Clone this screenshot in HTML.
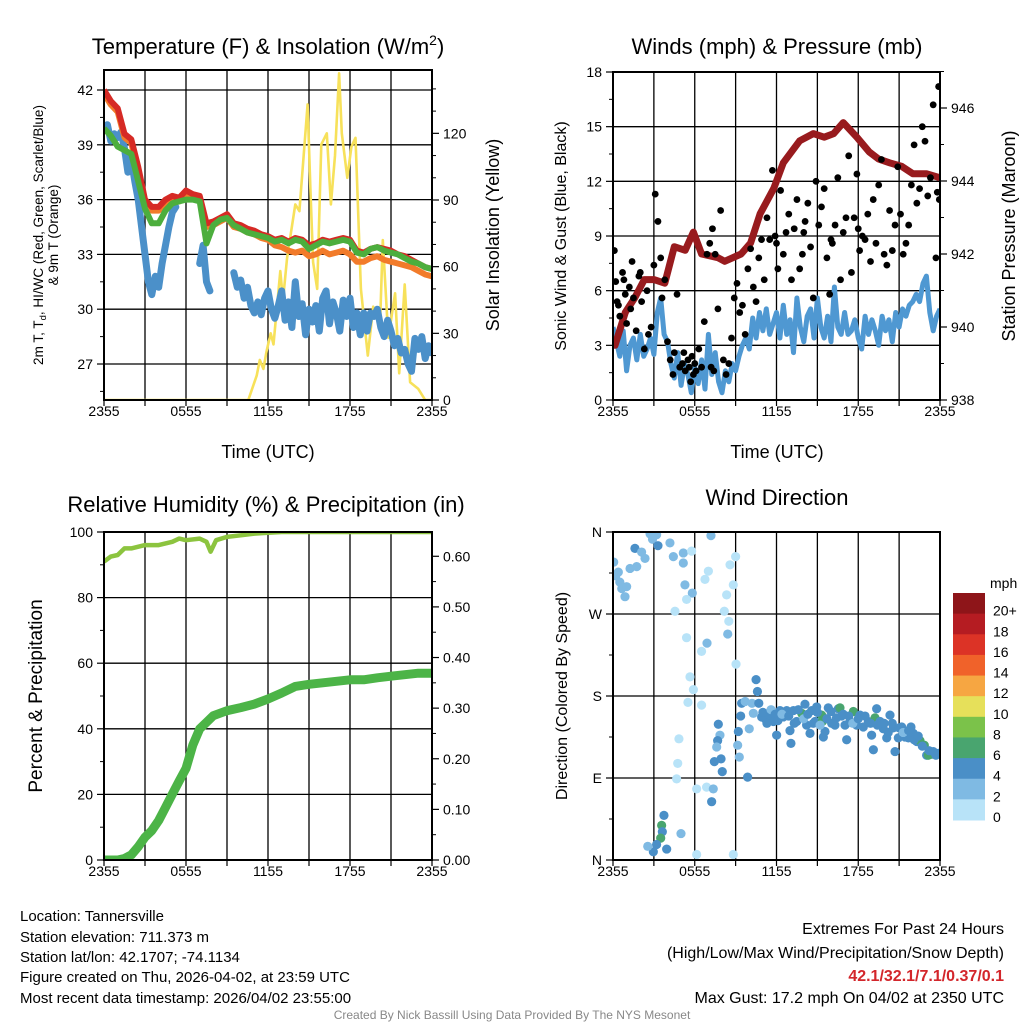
<!DOCTYPE html>
<html><head><meta charset="utf-8"><style>
html,body{margin:0;padding:0;background:#fff;width:1024px;height:1024px;overflow:hidden}
svg{display:block;font-family:"Liberation Sans",Arial,sans-serif}
</style></head><body>
<svg id="fig" width="1024" height="1024" viewBox="0 0 1024 1024">
<defs>
<clipPath id="c1"><rect x="104" y="70" width="328" height="330"/></clipPath>
<clipPath id="c2"><rect x="613" y="72" width="327" height="328"/></clipPath>
<clipPath id="c3"><rect x="104" y="532" width="328" height="328"/></clipPath>
<clipPath id="c4"><rect x="613" y="532" width="327" height="328"/></clipPath>
</defs>
<g id="layer"></g>
<text x="268" y="54" font-size="22" text-anchor="middle">Temperature (F) &amp; Insolation (W/m<tspan dy="-9" font-size="14">2</tspan><tspan dy="9">)</tspan></text>
<text x="777" y="54" font-size="22" text-anchor="middle">Winds (mph) &amp; Pressure (mb)</text>
<text x="266" y="512" font-size="22" text-anchor="middle">Relative Humidity (%) &amp; Precipitation (in)</text>
<text x="777" y="505" font-size="22" text-anchor="middle">Wind Direction</text>
<text x="268" y="458" font-size="18" text-anchor="middle">Time (UTC)</text>
<text x="777" y="458" font-size="18" text-anchor="middle">Time (UTC)</text>
<text transform="translate(43,235) rotate(-90)" font-size="13.5" text-anchor="middle">2m T, T<tspan dy="3" font-size="9.5">d</tspan><tspan dy="-3">, HI/WC (Red, Green, Scarlet/Blue)</tspan></text>
<text transform="translate(58,235) rotate(-90)" font-size="13.5" text-anchor="middle">&amp; 9m T (Orange)</text>
<text transform="translate(499,235) rotate(-90)" font-size="18" text-anchor="middle">Solar Insolation (Yellow)</text>
<text transform="translate(566,236) rotate(-90)" font-size="16" text-anchor="middle">Sonic Wind &amp; Gust (Blue, Black)</text>
<text transform="translate(1015,236) rotate(-90)" font-size="18" text-anchor="middle">Station Pressure (Maroon)</text>
<text transform="translate(42,696) rotate(-90)" font-size="19" text-anchor="middle">Percent &amp; Precipitation</text>
<text transform="translate(567,696) rotate(-90)" font-size="16" text-anchor="middle">Direction (Colored By Speed)</text>
<text x="990" y="588" font-size="14">mph</text>
<g font-size="15">
<text x="20" y="921">Location: Tannersville</text>
<text x="20" y="942">Station elevation: 711.373 m</text>
<text x="20" y="962">Station lat/lon: 42.1707; -74.1134</text>
<text x="20" y="982">Figure created on Thu, 2026-04-02, at 23:59 UTC</text>
<text x="20" y="1003">Most recent data timestamp: 2026/04/02 23:55:00</text>
</g>
<g font-size="16" text-anchor="end">
<text x="1004" y="934">Extremes For Past 24 Hours</text>
<text x="1004" y="958">(High/Low/Max Wind/Precipitation/Snow Depth)</text>
<text x="1004" y="981" fill="#d3262b" font-weight="bold">42.1/32.1/7.1/0.37/0.1</text>
<text x="1004" y="1003">Max Gust: 17.2 mph On 04/02 at 2350 UTC</text>
</g>
<text x="512" y="1019" font-size="12" fill="#888" text-anchor="middle">Created By Nick Bassill Using Data Provided By The NYS Mesonet</text>
</svg>
<script>
// ---------- data ----------
const xTickLabels = ["2355","0555","1155","1755","2355"];
const tempTimes = [0,0.5,1,1.5,2,2.5,3,3.5,4,4.5,5,5.5,6,6.5,7,7.5,8,8.5,9,9.5,10,10.5,11,11.5,12,12.5,13,13.5,14,14.5,15,15.5,16,16.5,17,17.5,18,18.5,19,19.5,20,20.5,21,21.5,22,22.5,23,23.5,24];
const tempRed = [42.0,41.4,41.0,39.6,39.3,37.8,36.0,35.6,35.6,36.0,36.2,36.1,36.5,36.3,36.2,34.7,34.8,35.0,35.2,34.7,34.6,34.4,34.3,34.1,34.0,33.8,33.9,33.7,33.9,33.8,33.5,33.6,33.8,33.7,33.8,33.9,33.8,33.2,33.1,33.3,33.4,33.3,33.2,33.0,32.9,32.7,32.5,32.3,32.2];
const tempOrange = [41.8,41.2,40.8,39.4,39.1,37.6,35.8,35.4,35.4,35.8,36.0,35.9,36.3,36.1,36.0,34.5,34.6,34.8,35.0,34.5,34.4,34.2,34.1,33.9,33.8,33.5,33.4,33.2,33.1,33.2,32.9,33.0,33.2,33.0,33.1,33.2,33.0,32.6,32.6,32.8,32.9,32.7,32.6,32.5,32.4,32.3,32.1,31.9,31.8];
const tempGreen = [39.9,39.5,38.9,38.7,38.5,37.0,35.5,34.7,34.7,35.4,35.8,35.9,36.0,36.0,35.9,33.6,34.6,34.9,35.0,34.6,34.4,34.2,34.1,34.0,33.9,33.7,33.8,33.6,33.8,33.7,33.3,33.5,33.7,33.6,33.7,33.8,33.7,33.1,33.0,33.3,33.4,33.2,33.1,33.0,32.8,32.6,32.5,32.3,32.2];
const dewTimes = [0,0.25,0.5,0.75,1,1.25,1.5,1.75,2,2.25,2.5,2.75,3,3.25,3.5,3.75,4,4.25,4.5,4.75,5,5.25,5.5,5.75,6,6.25,6.5,6.75,7,7.25,7.5,7.75,8,8.25,8.5,8.75,9,9.25,9.5,9.75,10,10.25,10.5,10.75,11,11.25,11.5,11.75,12,12.25,12.5,12.75,13,13.25,13.5,13.75,14,14.25,14.5,14.75,15,15.25,15.5,15.75,16,16.25,16.5,16.75,17,17.25,17.5,17.75,18,18.25,18.5,18.75,19,19.25,19.5,19.75,20,20.25,20.5,20.75,21,21.25,21.5,21.75,22,22.25,22.5,22.75,23,23.25,23.5,23.75,24];
const dewBlue = [39.8,40.1,39.2,39.6,39.4,39.7,38.8,37.5,38.2,37.0,36.0,34.5,33.0,31.5,30.8,31.8,31.2,32.5,33.5,34.5,35.3,35.6,null,null,null,null,null,null,32.5,33.5,31.5,31.0,null,35.3,null,null,null,null,32.0,31.2,31.6,30.6,31.2,30.2,29.8,30.4,29.7,30.6,31.0,30.0,29.5,30.2,31.0,29.4,30.4,29.0,31.5,29.6,30.3,28.6,30.0,29.3,30.2,28.8,30.6,31.0,29.2,30.4,29.8,28.8,30.5,29.6,30.6,29.0,29.8,28.6,29.8,28.8,29.8,29.6,30.0,29.0,28.5,29.4,28.8,28.0,28.4,27.6,27.8,27.0,26.6,28.4,27.8,28.5,27.3,28.0,27.6];
const solarTimes = [0,10.56,11.17,11.4,11.66,11.9,12.2,12.4,12.9,13.1,13.4,14.0,14.3,14.9,15.1,15.3,15.6,15.9,16.3,16.6,16.9,17.2,17.4,17.8,18.1,18.4,18.8,19.3,19.7,20.2,20.4,20.8,21.3,21.6,22.0,22.4,23.0,23.5,24];
const solarVals = [0,0,11,18,14,22,30,25,58,45,64,88,85,133,95,62,50,115,120,88,110,147,120,100,114,118,50,20,42,35,72,28,48,12,52,8,5,0,0];
const pressTimes = [0,0.15,0.9,1.6,2.3,3.0,3.8,4.5,5.3,5.9,6.5,7.7,8.2,9.4,10.1,10.8,11.8,12.5,13.7,14.7,15.5,16.2,16.9,17.9,18.8,19.5,20.3,21.2,22.0,23.0,23.9,24];
const pressVals = [939.5,939.5,940.4,940.8,941.3,941.3,941.2,942.2,942.1,942.6,942.0,941.9,941.8,942.0,942.3,943.1,943.8,944.5,945.1,945.3,945.2,945.3,945.6,945.2,944.8,944.6,944.5,944.4,944.2,944.2,944.1,944.1];
const windTimes = dewTimes;
const windSpeed = [4.0,3.2,2.4,3.8,1.6,3.0,3.4,2.2,3.6,2.4,2.8,3.4,2.5,4.8,5.6,3.6,3.2,2.0,1.2,2.6,0.8,2.0,1.4,0.4,1.8,0.9,2.2,0.6,3.6,1.4,2.6,1.0,0.4,1.6,1.0,2.0,1.6,2.4,3.0,3.4,2.8,4.5,3.4,4.8,3.8,5.0,3.6,4.2,4.8,3.4,5.2,3.6,4.4,2.6,5.6,4.0,3.2,4.6,5.0,3.4,5.6,4.0,3.4,4.6,3.2,6.2,4.0,3.6,4.8,3.6,3.8,4.4,3.4,2.8,4.6,3.6,4.4,3.8,3.0,4.6,3.8,4.4,3.2,4.8,4.0,5.0,4.6,5.2,5.4,5.8,5.4,6.4,6.8,4.8,3.8,4.6,5.0];
const gustTimes = [0.1,0.2,0.4,0.5,0.7,0.9,1.0,1.2,1.4,1.5,
1.7,1.9,2.1,2.3,2.5,2.6,2.8,3.0,3.1,3.3,
3.5,3.6,3.8,4.0,4.2,4.4,4.5,4.7,4.9,5.1,
5.3,5.5,5.7,5.9,6.1,6.3,6.5,6.7,6.9,7.1,
7.3,7.5,7.7,7.9,8.1,8.3,8.5,8.7,8.9,9.1,
9.3,9.5,9.7,9.9,10.1,10.3,10.5,10.7,10.9,11.1,
11.3,11.5,11.7,11.9,12.1,12.3,12.5,12.7,12.9,13.1,
13.3,13.5,13.7,13.9,14.1,14.3,14.5,14.7,14.9,15.1,
15.3,15.5,15.7,15.9,16.1,16.3,16.5,16.7,16.9,17.1,
17.3,17.5,17.7,17.9,18.1,18.3,18.5,18.7,18.9,19.1,
19.3,19.5,19.7,19.9,20.1,20.3,20.5,20.7,20.9,21.1,
21.3,21.5,21.7,21.9,22.1,22.3,22.5,22.7,22.9,23.1,
23.3,23.5,23.7,23.9,23.8,23.95,5.2,5.6,5.8,6.0,
7.2,7.4,0.3,0.8,1.3,2.0,12.0,14.0,16.0,18.0];
const gustSpeeds = [8.2,6.5,5.2,4.6,7.0,5.8,4.2,6.2,7.6,5.6,
3.8,6.8,5.4,2.8,6.0,3.6,4.0,7.4,11.3,9.8,
7.8,5.6,6.6,3.2,2.2,1.4,2.6,5.8,1.8,2.0,
1.6,2.2,1.0,1.4,1.6,2.8,1.8,4.3,8.0,8.6,
9.4,8.0,5.0,10.4,2.2,1.4,2.0,3.4,5.6,6.4,
4.8,5.2,3.6,7.2,8.3,6.2,5.4,7.8,8.8,6.6,
10.0,8.8,12.6,9.0,7.2,11.5,8.0,9.2,10.2,6.6,
9.4,11.0,7.2,8.0,9.8,10.8,8.4,5.6,12.0,9.6,
10.6,11.6,7.8,5.8,8.6,9.6,12.2,6.6,9.2,10.0,
13.4,7.0,10.0,12.4,8.2,9.0,8.8,10.2,7.6,11.0,
8.6,11.8,13.2,8.0,7.4,10.4,8.2,9.6,12.8,10.2,
8.0,8.6,9.6,11.8,14.0,10.8,11.6,15.0,14.2,11.2,
12.2,16.2,7.8,17.2,11.4,11.0,2.6,1.8,2.4,2.0,
1.8,1.6,5.4,6.6,5.0,7.0,8.6,9.2,8.8,9.4];
const rhTimes = [0,0.5,1,1.5,2,3,4,5,5.5,6,7,7.5,7.8,8.2,9,10,11,12,13,24];
const rhVals = [91,92.5,93,95,95,96,96,97,98,97.5,98,97,94,97.5,98.5,99,99.5,99.8,100,100];
const precipTimes = [0,1,1.5,2,2.5,3,3.5,4,4.5,5,5.5,6,6.5,7,7.5,8,9,10,11,12,13,14,15,16,17,18,19,20,21,22,23,24];
const precipIn = [0,0,0.003,0.010,0.026,0.045,0.058,0.078,0.104,0.130,0.156,0.181,0.227,0.259,0.272,0.285,0.295,0.301,0.308,0.318,0.330,0.343,0.347,0.350,0.353,0.356,0.356,0.360,0.363,0.366,0.369,0.369];
const dirTimes = [0.05,0.39,0.64,0.88,1.25,1.74,1.61,2.35,2.1,2.72,3.2,4.18,4.43,5.16,5.16,5.77,5.28,5.82,5.4,4.55,5.4,6.5,6.9,5.65,5.9,5.5,6.5,4.84,4.75,4.67,6.14,6.87,7.36,7.24,4.99,3.74,3.57,3.62,3.5,3.2,2.96,3.94,2.55,6.14,8.83,7.19,9.0,8.59,8.83,8.34,7.0,6.75,8.17,8.5,8.42,9.03,7.73,7.85,7.68,7.61,7.93,7.44,8.02,9.15,9.27,9.88,9.2,9.37,9.44,9.7,10.2,10.3,10.5,10.6,10.7,10.0,
10.91,11.16,11.52,11.77,12.01,12.26,12.5,12.75,12.99,13.06,13.24,13.48,13.85,14.09,14.21,14.46,14.58,14.83,14.95,15.31,15.36,15.44,15.56,15.8,16.05,16.29,16.54,16.66,16.78,17.03,17.15,17.39,17.64,17.88,18.13,18.37,18.74,18.98,19.11,19.23,19.35,19.6,19.84,20.09,20.33,20.57,20.7,20.94,21.19,21.43,21.68,21.87,22.04,22.29,22.53,22.85,23.02,23.14,23.39,23.51,23.88,24.0,
11.0,11.3,11.6,11.9,12.1,12.4,12.9,13.3,13.6,14.0,14.3,14.7,15.0,15.2,15.7,16.0,16.4,16.9,17.3,17.6,18.0,18.5,18.9,19.4,19.9,20.2,20.5,21.0,21.3,21.7,22.1,22.4,22.7,23.2,23.7,0.2,0.5,1.0,2.9,3.3];
const dirDegrees = [327,316,298,289,320,322,342,331,338,358,357,348,333,337,326,339,302,293,286,273,244,229,238,201,187,173,170,133,106,89,78,80,78,64,29,49,38,31,24,17,9,12,15,6,6,356,333,324,302,291,317,308,273,262,248,215,149,137,131,124,111,108,97,126,113,91,141,158,172,174,172,161,198,185,172,144,
157,155,159,152,137,164,157,164,142,128,164,152,161,171,148,139,164,152,168,159,152,135,141,167,150,148,166,167,158,148,132,152,163,148,159,146,152,137,121,156,166,152,144,134,159,145,119,134,146,135,134,146,139,130,131,126,115,115,116,119,117,117,
162,150,165,160,153,160,158,150,165,155,160,150,162,148,155,163,156,160,158,150,155,158,150,148,150,140,150,145,140,142,132,136,125,120,115,312,305,300,352,345];
const dirSpeeds = [3,3,3,3,3,3,5,3,3,3,3,3,3,3,3,1,3,3,1,1,1,1,3,1,1,1,1,1,1,1,1,1,3,5,3,5,7,5,7,5,5,5,3,1,1,3,1,1,1,1,1,1,1,1,3,1,5,3,5,3,5,5,5,3,3,5,5,5,5,3,3,3,5,5,5,3,
5,5,5,5,5,5,5,5,5,5,5,5,7,5,5,5,5,5,5,7,7,5,5,5,5,5,5,7,5,5,5,5,7,5,5,5,5,5,5,7,5,5,5,5,5,5,5,5,5,5,5,5,5,5,7,7,5,7,7,5,5,5,
5,5,3,5,5,3,5,5,5,3,5,5,5,3,5,5,5,5,5,3,5,5,5,5,5,5,5,5,3,5,5,5,5,5,5,3,3,3,3,5];
const cbLabels = ["20+","18","16","14","12","10","8","6","4","2","0"];
const cbColors = ["#8e1519","#b51c22","#dc3326","#f0622a","#f6a642","#e6e05a","#7bc24a","#49a56f","#4a8fc7","#7fbae3","#b8e3f8"];

// ---------- helpers ----------
const NS="http://www.w3.org/2000/svg";
const layer=document.getElementById('layer');
function mk(tag,attrs,parent){const e=document.createElementNS(NS,tag);for(const k in attrs)e.setAttribute(k,attrs[k]);(parent||layer).appendChild(e);return e;}
function linePath(ts,vs,sx,sy){let d="",pen=false;for(let i=0;i<ts.length;i++){if(vs[i]==null){pen=false;continue;}d+=(pen?"L":"M")+sx(ts[i]).toFixed(1)+","+sy(vs[i]).toFixed(1);pen=true;}return d;}
function txt(x,y,s,anchor,size,name){const t=mk('text',{x:x,y:y,'font-size':size||14,'text-anchor':anchor||'middle'});t.textContent=s;


return t;}

function frame(x0,y0,w,h,yGrid,xTickY,name){
  const g=mk('g',{});
  
  
  for(let i=1;i<8;i++){const x=x0+w*i/8;mk('line',{x1:x,y1:y0,x2:x,y2:y0+h,stroke:'#000','stroke-width':1.3},g);}
  yGrid.forEach(y=>mk('line',{x1:x0,y1:y,x2:x0+w,y2:y,stroke:'#000','stroke-width':1.3},g));
  for(let i=0;i<=8;i++){const x=x0+w*i/8;mk('line',{x1:x,y1:y0+h,x2:x,y2:y0+h+6,stroke:'#000','stroke-width':1.2},g);}
  xTickLabels.forEach((s,i)=>txt(x0+w*i/4,xTickY,s,'middle',14,name+'-x-tick-label'));
}
function border(x0,y0,w,h,name){const r=mk('rect',{x:x0,y:y0,width:w,height:h,fill:'none',stroke:'#000','stroke-width':2});

}
function yTicks(x,vals,sy,side,minor,labels,name,fmt){
  const dir=side==='left'?-1:1;
  vals.forEach(v=>{const y=sy(v);mk('line',{x1:x,y1:y,x2:x+dir*7,y2:y,stroke:'#000','stroke-width':1.2});});
  minor.forEach(v=>{const y=sy(v);mk('line',{x1:x,y1:y,x2:x+dir*4,y2:y,stroke:'#000','stroke-width':1});});
  vals.forEach((v,i)=>txt(x+dir*11,sy(v)+5,labels?labels[i]:(fmt?fmt(v):String(v)),side==='left'?'end':'start',14,name));
}

// ---------- Panel 1: temperature ----------
{
const x0=104,y0=70,w=328,h=330;
const sx=t=>x0+t/24*w, sy=v=>90+(42-v)*18.267, ss=s=>400-s*2.2222;
const tT=[42,39,36,33,30,27];
frame(x0,y0,w,h,tT.map(sy),416,'temperature');
const g=mk('g',{'clip-path':'url(#c1)'});
const sol=mk('path',{d:linePath(solarTimes,solarVals,sx,ss),fill:'none',stroke:'#f7e15a','stroke-width':2.6,'stroke-linejoin':'round'},g);


const dew=mk('path',{d:linePath(dewTimes,dewBlue,sx,sy),fill:'none',stroke:'#4b90c9','stroke-width':7,'stroke-linejoin':'round','stroke-linecap':'round'},g);


const ro=mk('path',{d:linePath(tempTimes,tempOrange,sx,sy),fill:'none',stroke:'#f27b2a','stroke-width':6,'stroke-linejoin':'round'},g);


const rr=mk('path',{d:linePath(tempTimes,tempRed,sx,sy),fill:'none',stroke:'#d62a25','stroke-width':6,'stroke-linejoin':'round'},g);


const gg=mk('path',{d:linePath(tempTimes,tempGreen,sx,sy),fill:'none',stroke:'#4cae3d','stroke-width':6,'stroke-linejoin':'round'},g);


border(x0,y0,w,h,'temperature');
yTicks(x0,tT,sy,'left',[40.5,37.5,34.5,31.5,28.5,25.5],null,'temperature-y-tick-label');
yTicks(x0+w,[0,30,60,90,120],ss,'right',[10,20,40,50,70,80,100,110,130,140],null,'solar-y-tick-label');
}
// ---------- Panel 2: winds ----------
{
const x0=613,y0=72,w=327,h=328;
const sx=t=>x0+t/24*w, sy=v=>400-v*18.222, sp=p=>400-(p-938)*36.5;
frame(x0,y0,w,h,[3,6,9,12,15].map(sy),416,'winds');
const g=mk('g',{'clip-path':'url(#c2)'});
const wl=mk('path',{d:linePath(windTimes,windSpeed,sx,sy),fill:'none',stroke:'#4f98d2','stroke-width':5,'stroke-linejoin':'round'},g);


const pl=mk('path',{d:linePath(pressTimes,pressVals,sx,sp),fill:'none',stroke:'#981b1e','stroke-width':7,'stroke-linejoin':'round','stroke-linecap':'round'},g);


gustTimes.forEach((t,i)=>{const c=mk('circle',{cx:sx(t),cy:sy(gustSpeeds[i]),r:3.4,fill:'#000'},g);

});
border(x0,y0,w,h,'winds');
yTicks(x0,[0,3,6,9,12,15,18],sy,'left',[1.5,4.5,7.5,10.5,13.5,16.5],null,'wind-y-tick-label');
yTicks(x0+w,[938,940,942,944,946],sp,'right',[939,941,943,945,947],null,'pressure-y-tick-label');
}
// ---------- Panel 3: humidity ----------
{
const x0=104,y0=532,w=328,h=328;
const sx=t=>x0+t/24*w, sy=v=>860-v*3.28, sr=v=>860-v*506.2;
frame(x0,y0,w,h,[20,40,60,80,100].map(sy),876,'humidity');
const g=mk('g',{'clip-path':'url(#c3)'});
const rl=mk('path',{d:linePath(rhTimes,rhVals,sx,sy),fill:'none',stroke:'#8cc43f','stroke-width':4.5,'stroke-linejoin':'round'},g);


const pl=mk('path',{d:linePath(precipTimes,precipIn,sx,sr),fill:'none',stroke:'#4cb447','stroke-width':9,'stroke-linejoin':'round','stroke-linecap':'round'},g);


border(x0,y0,w,h,'humidity');
yTicks(x0,[0,20,40,60,80,100],sy,'left',[10,30,50,70,90],null,'humidity-y-tick-label');
yTicks(x0+w,[0,0.1,0.2,0.3,0.4,0.5,0.6],sr,'right',[0.05,0.15,0.25,0.35,0.45,0.55],null,'precipitation-y-tick-label',v=>v.toFixed(2));
}
// ---------- Panel 4: wind direction ----------
{
const x0=613,y0=532,w=327,h=328;
const sx=t=>x0+t/24*w, sd=d=>860-d/360*328;
frame(x0,y0,w,h,[90,180,270].map(sd),876,'direction');
const g=mk('g',{'clip-path':'url(#c4)'});
dirTimes.forEach((t,i)=>{const s=dirSpeeds[i];const idx=Math.min(10,Math.floor(s/2));
const c=mk('circle',{cx:sx(t),cy:sd(dirDegrees[i]),r:4.6,fill:cbColors[10-idx]},g);

});
border(x0,y0,w,h,'direction');
yTicks(x0,[0,90,180,270,360],sd,'left',[45,135,225,315],["N","E","S","W","N"],'direction-y-tick-label');
const cx=953,cy=593,cw=32,ch=227/11;
cbColors.forEach((c,i)=>{const r=mk('rect',{x:cx,y:cy+i*ch,width:cw,height:ch+0.5,fill:c});

});
cbLabels.forEach((s,i)=>txt(993,cy+(i+1)*ch+2,s,'start',14,'colorbar-label'));
}
</script>
</body></html>
